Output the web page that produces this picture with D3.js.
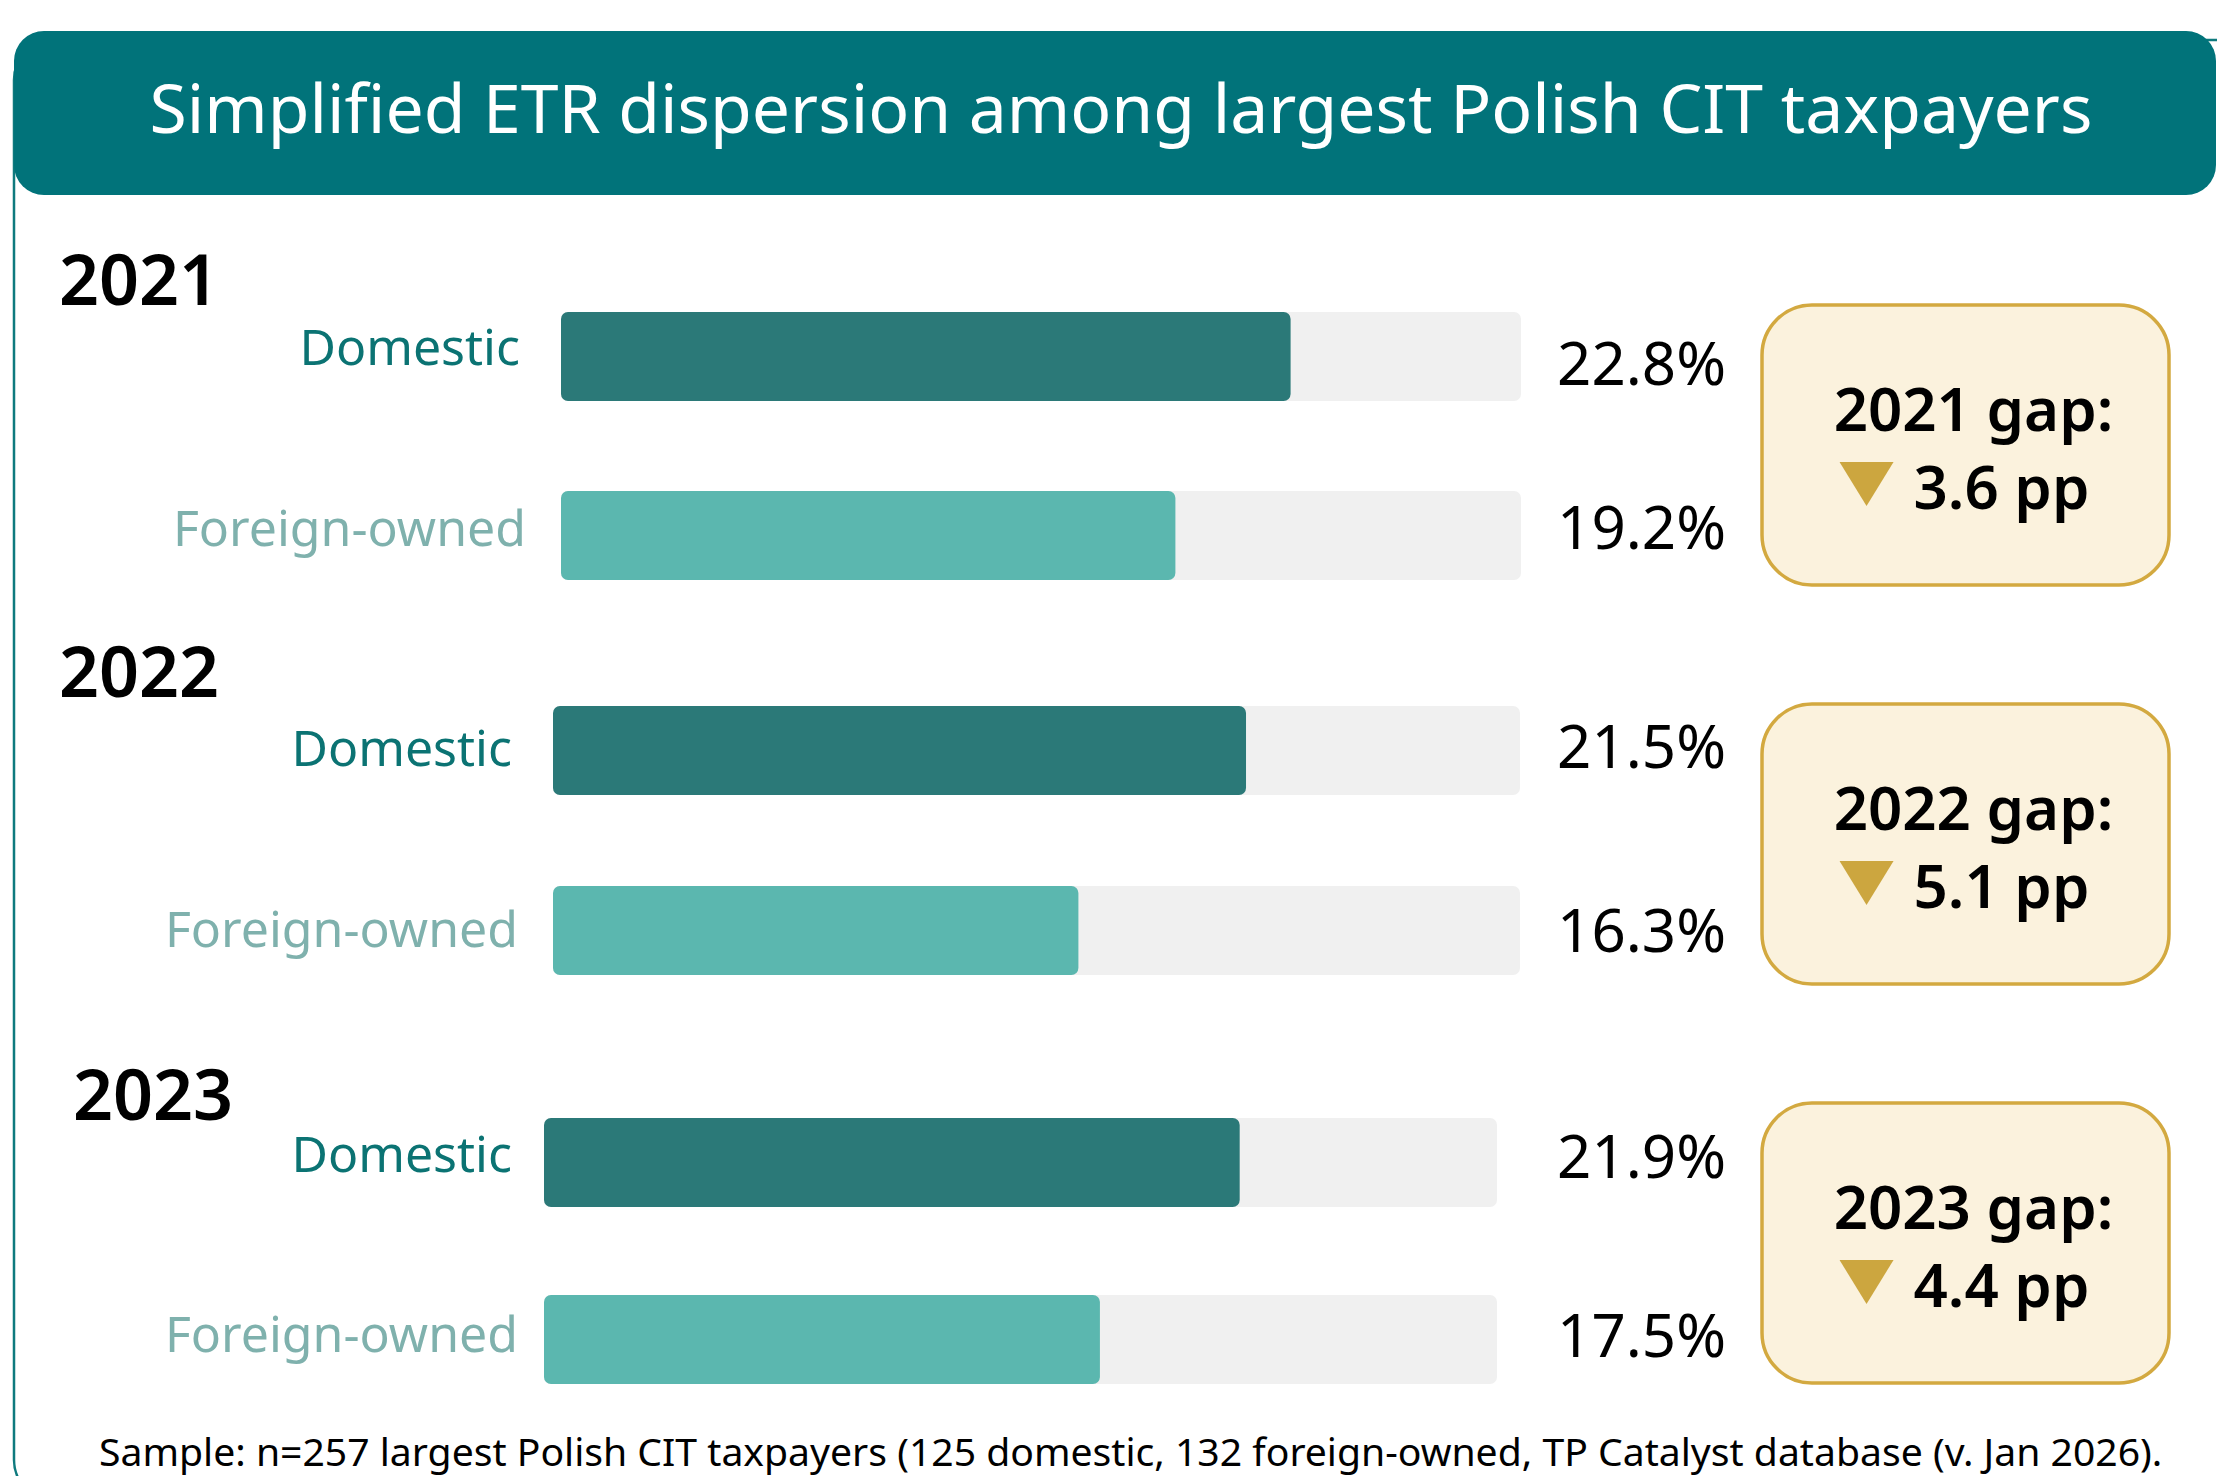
<!DOCTYPE html>
<html>
<head>
<meta charset="utf-8">
<script src="https://cdn.jsdelivr.net/npm/d3@7"></script>
<style>
  html, body { margin: 0; padding: 0; background: #ffffff; }
  svg { display: block; font-family: "Noto Sans", "Open Sans", sans-serif; }
</style>
</head>
<body>
<div id="chart"></div>
<script>
// Data
const years = ["2021", "2022", "2023"];
const domesticEtr = [22.8, 21.5, 21.9];
const foreignEtr = [19.2, 16.3, 17.5];
const gapPp = [3.6, 5.1, 4.4];
const categories = ["Domestic", "Foreign-owned"];
const titleText = "Simplified ETR dispersion among largest Polish CIT taxpayers";
const footText = "Sample: n=257 largest Polish CIT taxpayers (125 domestic, 132 foreign-owned, TP Catalyst database (v. Jan 2026).";

const W = 2217, H = 1476;

// layout per year block (pixels)
const trackX0 = [561, 553, 544];
const trackX1 = [1521, 1520, 1497];
const barTop = [[312, 491], [706, 886], [1118, 1295]];
const barH = 89;
const yearPos = [[59, 305], [59, 697], [73, 1120]];
const catRight = [[520, 526], [512, 518], [512, 518]];
const catBase = [[365, 546], [766, 947], [1172, 1352]];
const valBase = [[385, 549], [768, 952], [1178, 1357]];
const boxTop = [305, 704, 1103];

const svg = d3.select("#chart").append("svg")
    .attr("width", W)
    .attr("height", H);

// outer panel with teal border
svg.append("rect")
    .attr("x", 14).attr("y", 40)
    .attr("width", 2260).attr("height", 1460)
    .attr("rx", 40)
    .attr("fill", "#ffffff")
    .attr("stroke", "#0f7a7e")
    .attr("stroke-width", 2.5);

// header band
svg.append("rect")
    .attr("x", 14).attr("y", 31)
    .attr("width", 2202).attr("height", 164)
    .attr("rx", 30)
    .attr("fill", "#01737a");

// fit a text element's font size to a target width
function fitWidth(sel, target) {
    const fs = parseFloat(sel.attr("font-size"));
    const len = sel.node().getComputedTextLength();
    sel.attr("font-size", fs * target / len);
}

const title = svg.append("text")
    .attr("x", 1121).attr("y", 133)
    .attr("text-anchor", "middle")
    .attr("font-size", 66)
    .attr("fill", "#ffffff")
    .text(titleText);
fitWidth(title, 1943);

const domColor = "#2b7978", forColor = "#5bb7af", trackColor = "#f0f0f0";
const catColors = ["#0b7373", "#7fb1ad"];

years.forEach((yr, i) => {
    const x = d3.scaleLinear().domain([0, 30]).range([trackX0[i], trackX1[i]]);
    const g = svg.append("g");
    const rows = [
        { cat: categories[0], value: domesticEtr[i], color: domColor },
        { cat: categories[1], value: foreignEtr[i], color: forColor }
    ];

    // year heading
    g.append("text")
        .attr("x", yearPos[i][0]).attr("y", yearPos[i][1])
        .attr("font-size", 70)
        .attr("font-weight", 600)
        .attr("fill", "#000")
        .text(yr);

    // background tracks
    g.selectAll("rect.track")
        .data(rows)
        .enter().append("rect")
        .attr("class", "track")
        .attr("x", x(0))
        .attr("y", (d, j) => barTop[i][j])
        .attr("width", x(30) - x(0))
        .attr("height", barH)
        .attr("rx", 7)
        .attr("fill", trackColor);

    // value bars
    g.selectAll("rect.bar")
        .data(rows)
        .enter().append("rect")
        .attr("class", "bar")
        .attr("x", x(0))
        .attr("y", (d, j) => barTop[i][j])
        .attr("width", d => x(d.value) - x(0))
        .attr("height", barH)
        .attr("rx", 7)
        .attr("fill", d => d.color);

    // category labels
    g.selectAll("text.cat")
        .data(rows)
        .enter().append("text")
        .attr("class", "cat")
        .attr("x", (d, j) => catRight[i][j])
        .attr("y", (d, j) => catBase[i][j])
        .attr("text-anchor", "end")
        .attr("font-size", 50)
        .attr("fill", (d, j) => catColors[j])
        .text(d => d.cat);

    // value labels
    g.selectAll("text.val")
        .data(rows)
        .enter().append("text")
        .attr("class", "val")
        .attr("x", 1726)
        .attr("y", (d, j) => valBase[i][j])
        .attr("text-anchor", "end")
        .attr("font-size", 60)
        .attr("fill", "#000")
        .text(d => d.value.toFixed(1) + "%");

    // gap box
    const bx = 1762, bw = 407, bh = 280;
    g.append("rect")
        .attr("x", bx).attr("y", boxTop[i])
        .attr("width", bw).attr("height", bh)
        .attr("rx", 50)
        .attr("fill", "#fbf2dd")
        .attr("stroke", "#d3a940")
        .attr("stroke-width", 3.5);

    g.append("text")
        .attr("x", bx + bw / 2 + 8).attr("y", boxTop[i] + 126)
        .attr("text-anchor", "middle")
        .attr("font-size", 60)
        .attr("font-weight", 600)
        .attr("fill", "#000")
        .text(yr + " gap:");

    // second line: down triangle + gap value, centred as a unit
    const base2 = boxTop[i] + 204;
    const triW = 54, triH = 44, triGap = 20;
    const val = g.append("text")
        .attr("y", base2)
        .attr("font-size", 60)
        .attr("font-weight", 600)
        .attr("fill", "#000")
        .text(gapPp[i].toFixed(1) + " pp");
    const tw = val.node().getComputedTextLength();
    const cx = bx + bw / 2 - 1;
    const left = cx - (triW + triGap + tw) / 2;
    val.attr("x", left + triW + triGap);
    g.append("path")
        .attr("d", `M${left},${base2 - 47}L${left + triW},${base2 - 47}L${left + triW / 2},${base2 - 3}Z`)
        .attr("fill", "#cca63f");
});

const foot = svg.append("text")
    .attr("x", 99).attr("y", 1466)
    .attr("font-size", 36)
    .attr("fill", "#000")
    .text(footText);
fitWidth(foot, 2064);
</script>
</body>
</html>
